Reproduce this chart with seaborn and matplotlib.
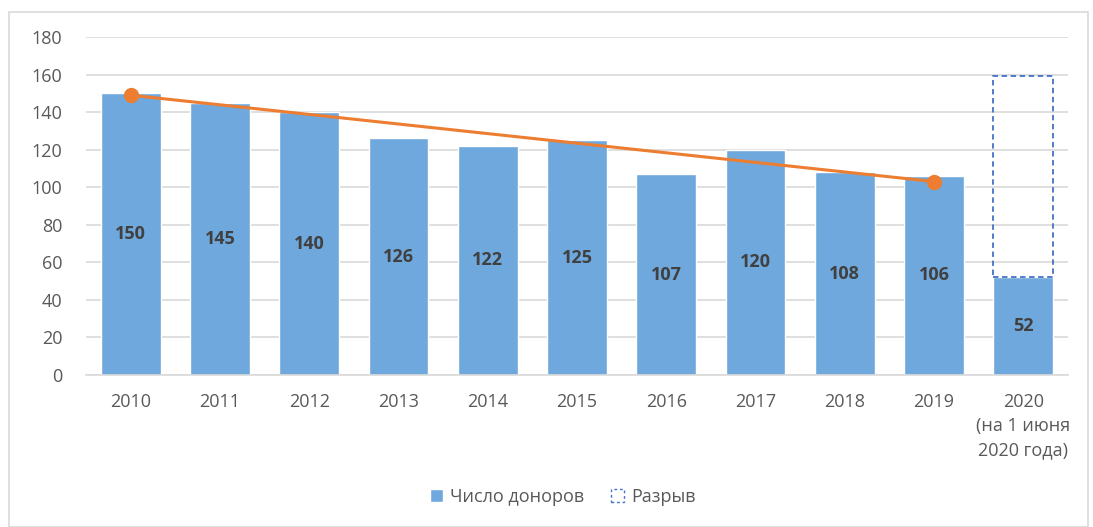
import matplotlib
matplotlib.use("Agg")
import matplotlib.pyplot as plt
import seaborn as sns
import pandas as pd
from matplotlib.patches import Rectangle, Patch

years = ["2010", "2011", "2012", "2013", "2014", "2015", "2016", "2017", "2018", "2019",
         "2020\n(на 1 июня\n2020 года)"]
donors = [150, 145, 140, 126, 122, 125, 107, 120, 108, 106, 52]
gap_top = 159
trend_years = ["2010", "2019"]
trend_values = [149, 103]

sns.set_theme(style="white")
plt.rcParams["font.family"] = ["Open Sans", "DejaVu Sans"]

df = pd.DataFrame({"year": years, "donors": donors})

fig = plt.figure(figsize=(10.93, 5.27), dpi=100)
ax = fig.add_axes([86 / 1093, 1 - 375 / 527, (1068 - 86) / 1093, (375 - 37) / 527])

# frame around the whole chart
fig.patches.append(Rectangle((9 / 1093, 0.0), 1 - 14 / 1093, 1 - 12 / 527, transform=fig.transFigure,
                             fill=False, edgecolor="#d9d9d9", linewidth=1.2))

sns.barplot(data=df, x="year", y="donors", color="#6fa8dc", width=0.67, saturation=1, ax=ax, zorder=2)

# gap bar for 2020
ax.bar(len(years) - 1, gap_top - donors[-1], bottom=donors[-1], width=0.67, fill=False,
       edgecolor="#4472c4", linestyle=(0, (3, 2)), linewidth=1.3, zorder=3)

# trend line
tx = [years.index(y) for y in trend_years]
ax.plot(tx, trend_values, color="#ed7d31", linewidth=2.2, marker="o", markersize=10, zorder=4)

for i, v in enumerate(donors):
    ax.text(i, v / 2, str(v), ha="center", va="center", fontsize=13, fontweight="bold", color="#404040", zorder=5)

ax.set_ylim(0, 180)
ax.set_xlim(-0.5, len(years) - 0.5)
ax.set_yticks(range(0, 181, 20))
ax.yaxis.grid(True, color="#d9d9d9", linewidth=1.2, zorder=0)
ax.set_axisbelow(True)
for s in ["top", "right", "left"]:
    ax.spines[s].set_visible(False)
ax.spines["bottom"].set_color("#d9d9d9")
ax.spines["bottom"].set_linewidth(1.2)
ax.set_xlabel("")
ax.set_ylabel("")
ax.tick_params(axis="both", length=0, labelsize=13, colors="#595959")
ax.tick_params(axis="y", pad=17)
ax.tick_params(axis="x", pad=13)
for lbl in ax.get_xticklabels():
    lbl.set_linespacing(1.45)

handles = [Patch(facecolor="#6fa8dc", label="Число доноров"),
           Patch(facecolor="none", edgecolor="#4472c4", linestyle=(0, (2, 2)), label="Разрыв")]
fig.legend(handles=handles, loc="center", bbox_to_anchor=(0.515, 1 - 497 / 527), ncol=2, frameon=False,
           fontsize=13, labelcolor="#595959", handlelength=0.7, handleheight=0.7, handletextpad=0.4,
           columnspacing=1.5)

fig.savefig("out.png", dpi=100)
